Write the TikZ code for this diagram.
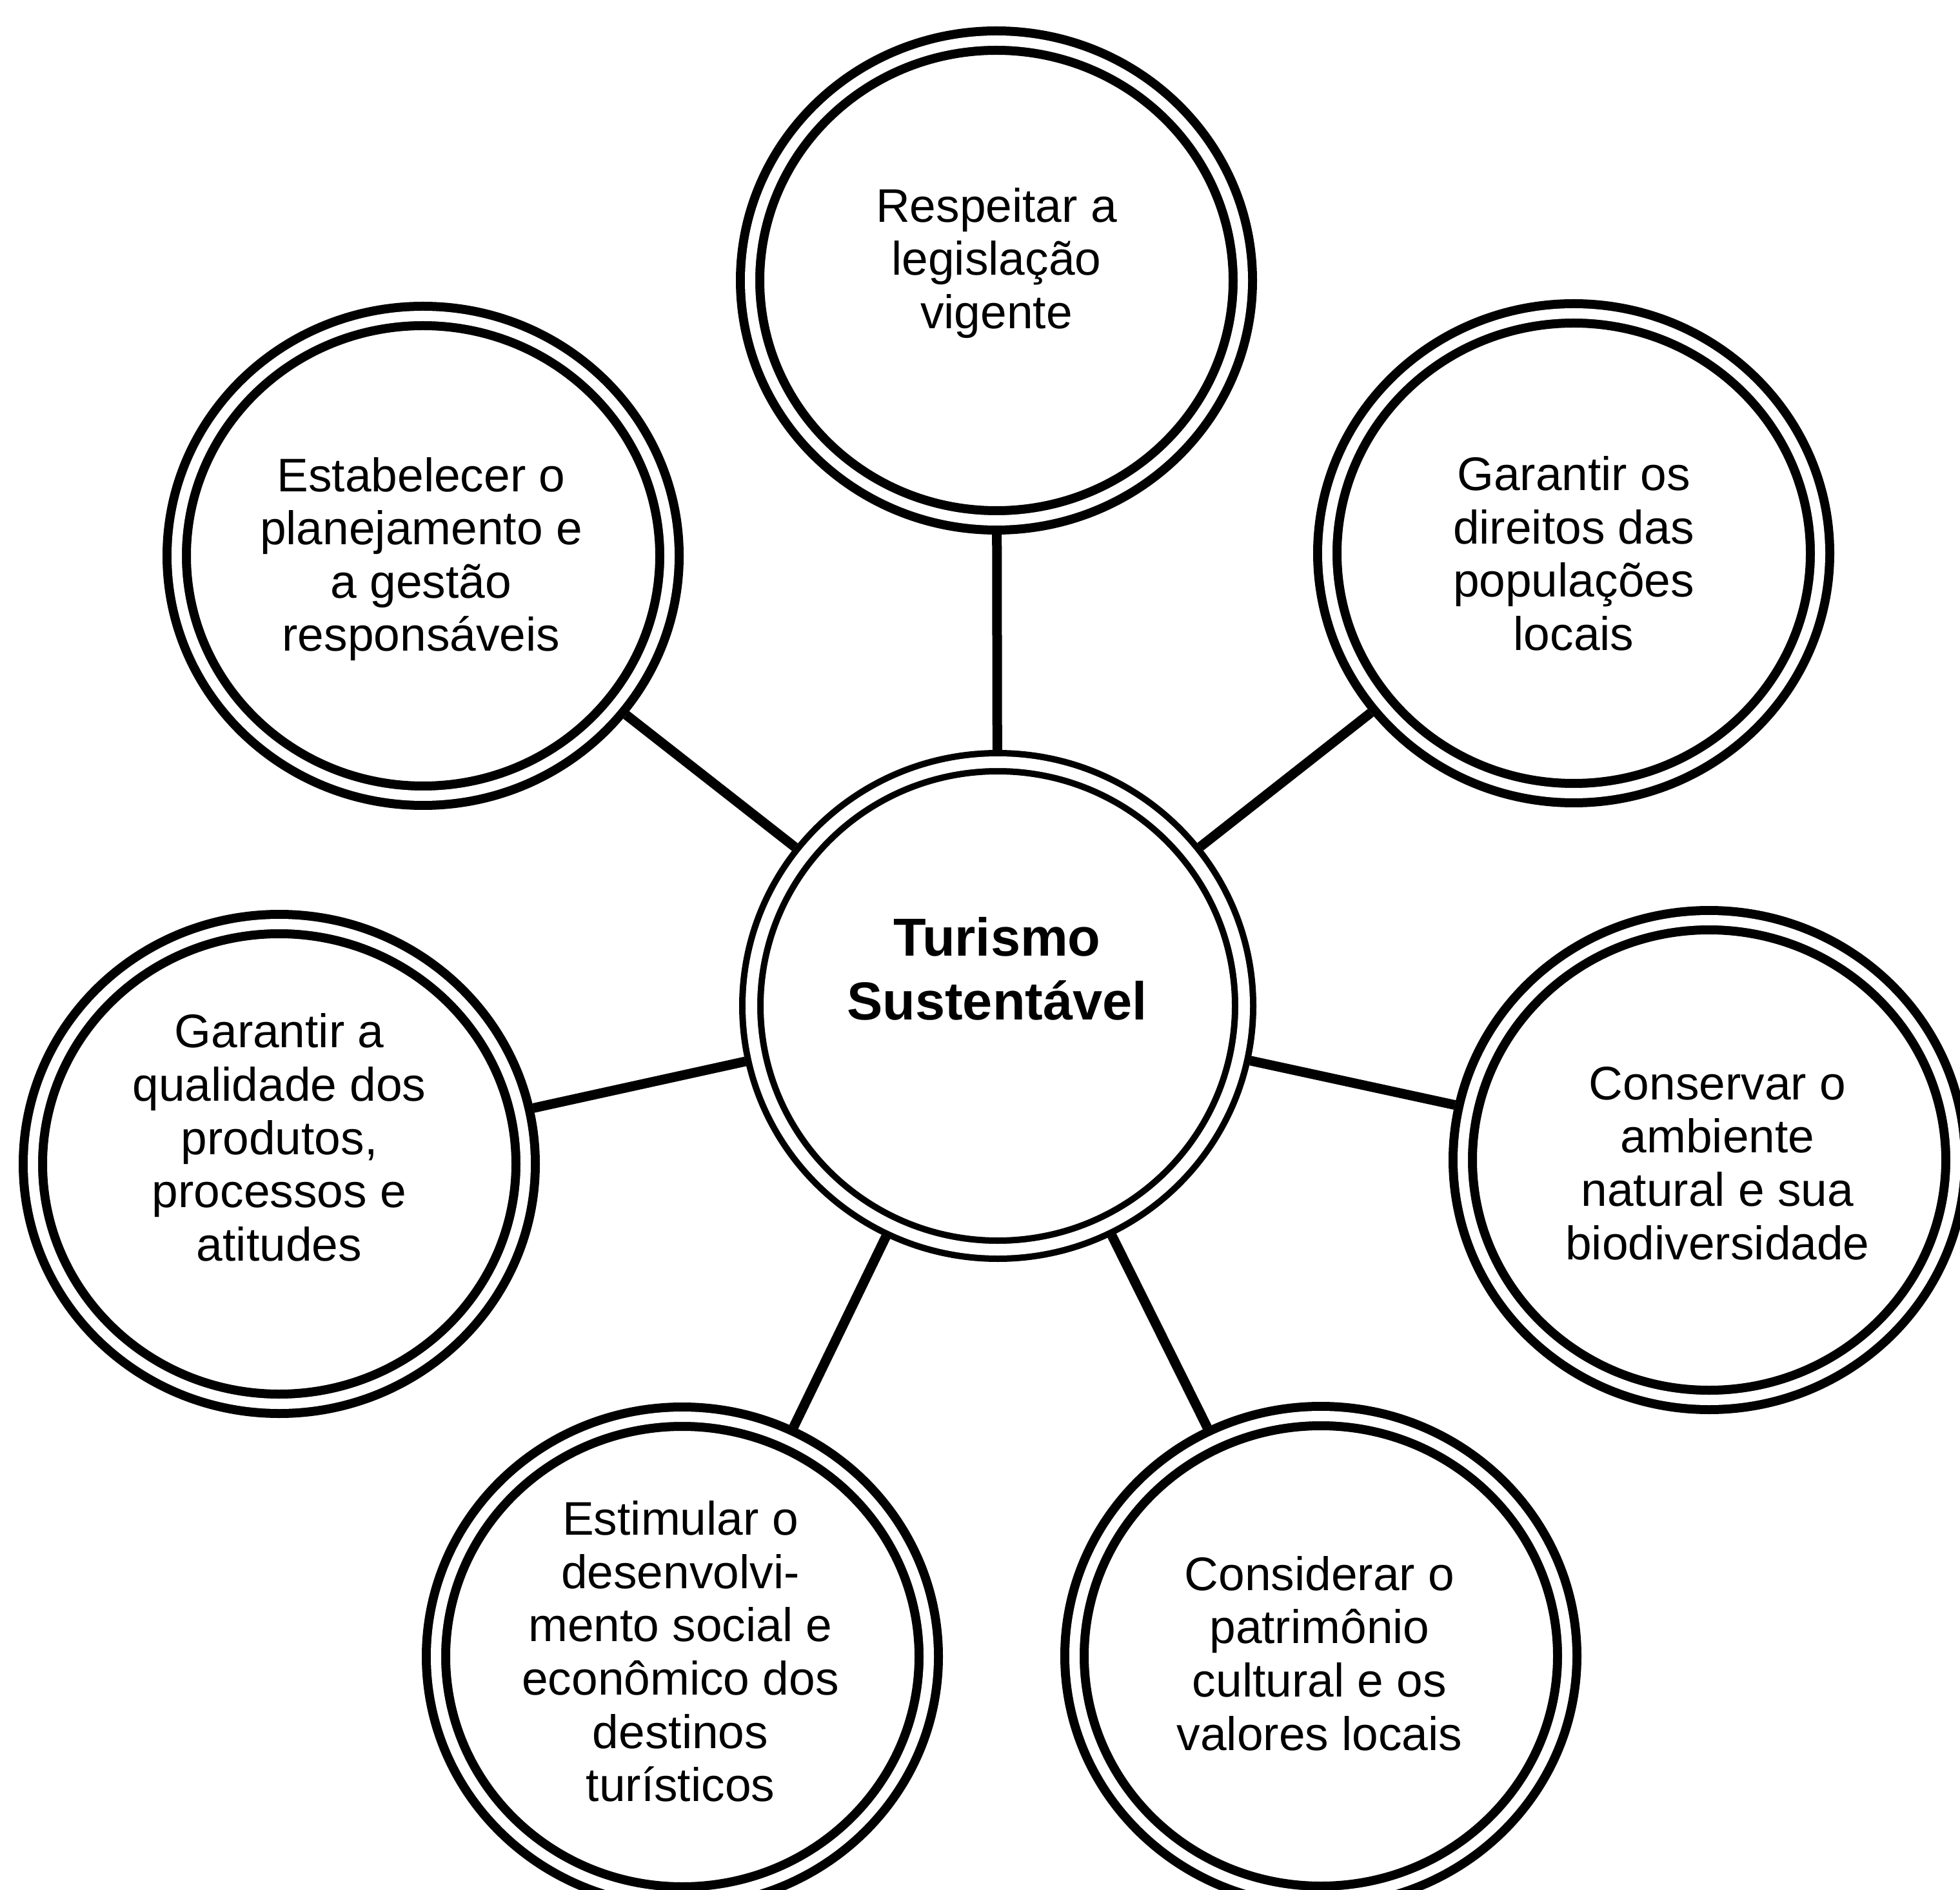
\documentclass[tikz,border=0pt]{standalone}
\usepackage{fontspec}
\setmainfont{Liberation Sans}
\usetikzlibrary{shapes.geometric}

\begin{document}
\begin{tikzpicture}[
  ring/.style={ellipse,draw,double,line width=0.14cm,double distance=0.16cm,outer sep=0.22cm,inner sep=0pt,minimum width=7.64cm,minimum height=7.44cm},
  hubring/.style={ring,line width=0.10cm,double distance=0.18cm,outer sep=0.19cm,minimum height=7.56cm},
  goal/.style={align=center,font=\fontsize{20.8}{23.5}\selectfont},
  hubtext/.style={align=center,font=\bfseries\fontsize{23.6}{28.2}\selectfont},
  spoke/.style={line width=0.15cm}]
  %page frame
  \useasboundingbox (0,0) rectangle (30.39,-29.31);
  \clip (0,0) rectangle (30.39,-29.31);

  %central circle
  \node[hubring] (hub) at (15.47,-15.60) {};
  \node[hubtext] (hubtxt) at (15.46,-15.02) {Turismo\\Sustentável};

  %outer circles
  \node[ring] (lei) at (15.45,-4.35) {};
  \node[ring] (gestao) at (6.56,-8.62) {};
  \node[ring] (direitos) at (24.40,-8.58) {};
  \node[ring] (qualidade) at (4.33,-18.05) {};
  \node[ring] (ambiente) at (26.50,-17.99) {};
  \node[ring] (social) at (10.58,-25.69) {};
  \node[ring] (patrimonio) at (20.48,-25.68) {};

  %texts of the outer circles
  \node[goal] (leitxt) at (15.45,-4.08) {Respeitar a\\legislação\\vigente};
  \node[goal] (gestaotxt) at (6.53,-8.67) {Estabelecer o\\planejamento e\\a gestão\\responsáveis};
  \node[goal] (direitostxt) at (24.40,-8.585) {Garantir os\\direitos das\\populações\\locais};
  \node[goal] (qualidadetxt) at (4.33,-17.64) {Garantir a\\qualidade dos\\produtos,\\processos e\\atitudes};
  \node[goal] (ambientetxt) at (26.63,-18.04) {Conservar o\\ambiente\\natural e sua\\biodiversidade};
  \node[goal] (socialtxt) at (10.55,-25.61) {Estimular o\\desenvolvi-\\mento social e\\econômico dos\\destinos\\turísticos};
  \node[goal] (patrimoniotxt) at (20.46,-25.64) {Considerar o\\patrimônio\\cultural e os\\valores locais};

  %spokes
  \foreach \g in {lei,gestao,direitos,qualidade,ambiente,social,patrimonio}
    \draw[spoke] (hub) -- (\g);
\end{tikzpicture}
\end{document}
